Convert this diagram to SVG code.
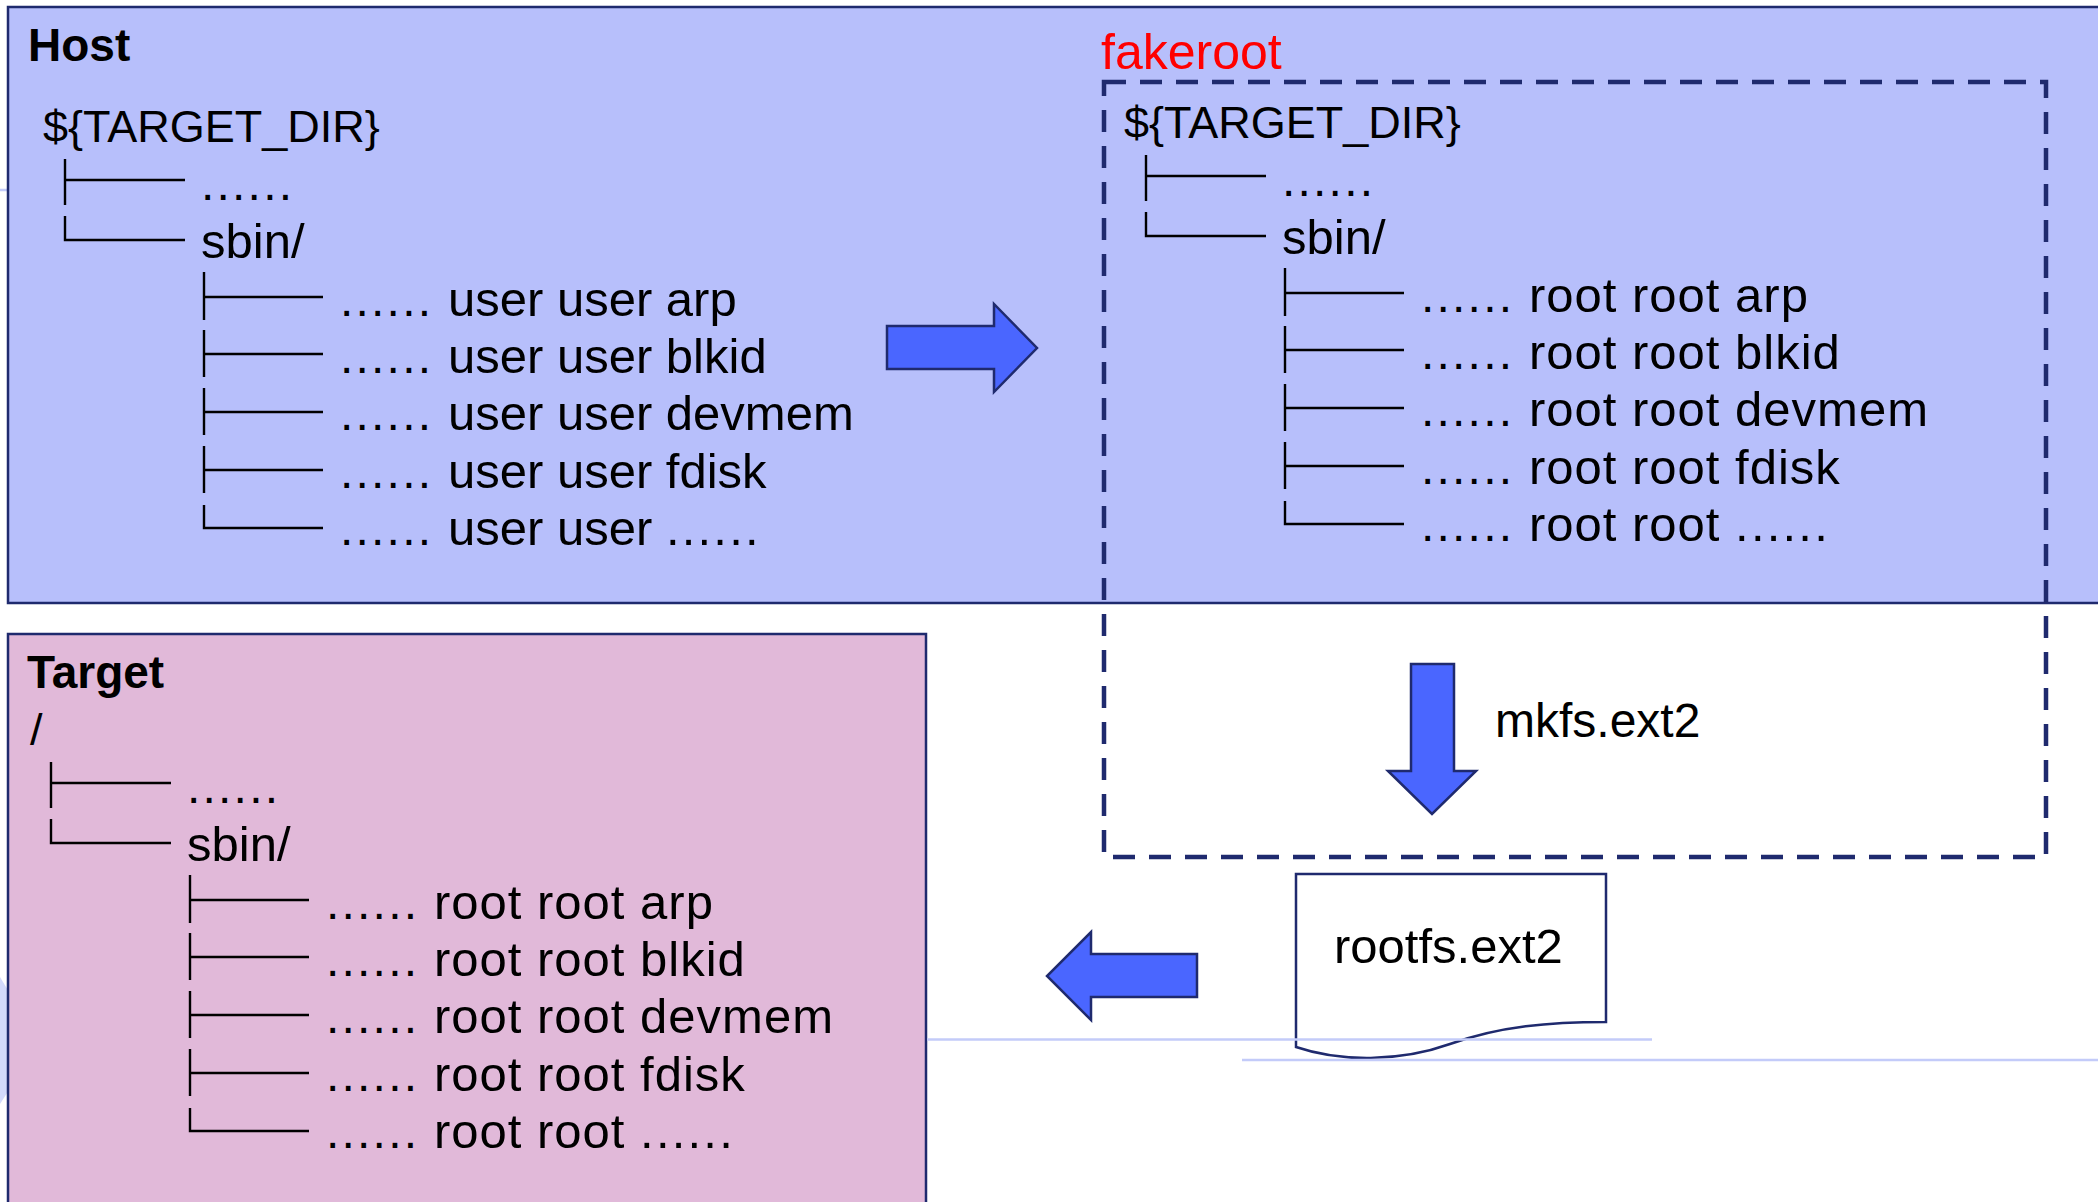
<svg xmlns="http://www.w3.org/2000/svg" width="2098" height="1202" viewBox="0 0 2098 1202">
<style>
text{font-family:"Liberation Sans",Arial,sans-serif;fill:#000}
.t{font-size:46px;font-weight:bold}
.dir{font-size:45px}
.r{font-size:49px}
.rr{font-size:49px;letter-spacing:1px}
.dots{font-size:48px;letter-spacing:2.2px}
.tree{fill:none;stroke:#000;stroke-width:2.4}
.box{stroke:#1F2A6E;stroke-width:2.5}
.arrow{fill:#4A66FF;stroke:#1F2A6E;stroke-width:2.5;stroke-linejoin:miter}
.faint{stroke:#C3CBF9;stroke-width:2.5}
</style>
<defs>
<path id="treeLines" class="tree" d="M65 159V205M65 180H185M65 216V240H185M204 272V320M204 297H323M204 330V377M204 354H323M204 388V435M204 412H323M204 446V493M204 470H323M204 505V528H323"/>
</defs>
<rect width="2098" height="1202" fill="#fff"/>
<g id="background-marks">
<line class="faint" x1="0" y1="190" x2="8" y2="190"/>
<polygon points="0,977 9,992 9,1090 0,1104" fill="#D3DAFB"/>
</g>
<g id="host">
<rect class="box" x="8" y="7" width="2110" height="596" fill="#B7BFFB"/>
<text class="t" x="28" y="61">Host</text>
<text class="dir" x="43" y="142">${TARGET_DIR}</text>
<use href="#treeLines"/>
<text class="dots" x="201" y="200">......</text>
<text class="r" x="201" y="258">sbin/</text>
<text class="dots" x="340" y="316">......</text><text class="r" x="448" y="316">user user arp</text>
<text class="dots" x="340" y="373">......</text><text class="r" x="448" y="373">user user blkid</text>
<text class="dots" x="340" y="430">......</text><text class="r" x="448" y="430">user user devmem</text>
<text class="dots" x="340" y="488">......</text><text class="r" x="448" y="488">user user fdisk</text>
<text class="dots" x="340" y="545">......</text><text class="r" x="448" y="545">user user <tspan style="letter-spacing:2.2px">......</tspan></text>
</g>
<g id="target">
<rect class="box" x="8" y="634" width="918" height="600" fill="#E1B9D9"/>
<text class="t" x="27" y="688">Target</text>
<g transform="translate(-14,603)">
<text class="dir" x="44" y="142">/</text>
<use href="#treeLines"/>
<text class="dots" x="201" y="200">......</text>
<text class="r" x="201" y="258">sbin/</text>
<text class="dots" x="340" y="316">......</text><text class="rr" x="448" y="316">root root arp</text>
<text class="dots" x="340" y="373">......</text><text class="rr" x="448" y="373">root root blkid</text>
<text class="dots" x="340" y="430">......</text><text class="rr" x="448" y="430">root root devmem</text>
<text class="dots" x="340" y="488">......</text><text class="rr" x="448" y="488">root root fdisk</text>
<text class="dots" x="340" y="545">......</text><text class="rr" x="448" y="545">root root <tspan style="letter-spacing:2.2px">......</tspan></text>
</g>
</g>
<g id="fakeroot">
<rect x="1104" y="82" width="942" height="775" fill="none" stroke="#1F2A6E" stroke-width="4.5" stroke-dasharray="22 14"/>
<text x="1101" y="69" style="font-size:50px;fill:#FF0000">fakeroot</text>
<g transform="translate(1081,-4)">
<text class="dir" x="43" y="142">${TARGET_DIR}</text>
<use href="#treeLines"/>
<text class="dots" x="201" y="200">......</text>
<text class="r" x="201" y="258">sbin/</text>
<text class="dots" x="340" y="316">......</text><text class="rr" x="448" y="316">root root arp</text>
<text class="dots" x="340" y="373">......</text><text class="rr" x="448" y="373">root root blkid</text>
<text class="dots" x="340" y="430">......</text><text class="rr" x="448" y="430">root root devmem</text>
<text class="dots" x="340" y="488">......</text><text class="rr" x="448" y="488">root root fdisk</text>
<text class="dots" x="340" y="545">......</text><text class="rr" x="448" y="545">root root <tspan style="letter-spacing:2.2px">......</tspan></text>
</g>
</g>
<g id="rootfs">
<path d="M1296 874H1606V1022C1550 1022 1500 1026 1450 1044C1400 1062 1340 1062 1296 1047Z" fill="#fff" stroke="#1F2A6E" stroke-width="2.5"/>
<text x="1334" y="963" style="font-size:49px">rootfs.ext2</text>
</g>
<g id="connectors">
<polygon class="arrow" points="887,326 994,326 994,304 1037,348 994,392 994,369 887,369"/>
<polygon class="arrow" points="1411,664 1454,664 1454,771 1476,771 1432,814 1388,771 1411,771"/>
<text x="1495" y="737" style="font-size:48px">mkfs.ext2</text>
<polygon class="arrow" points="1197,954 1091,954 1091,932 1047,976 1091,1020 1091,997 1197,997"/>
</g>
<g id="guide-lines">
<line class="faint" x1="927" y1="1039.5" x2="1652" y2="1039.5"/>
<line class="faint" x1="1242" y1="1060" x2="2098" y2="1060"/>
</g>
</svg>
